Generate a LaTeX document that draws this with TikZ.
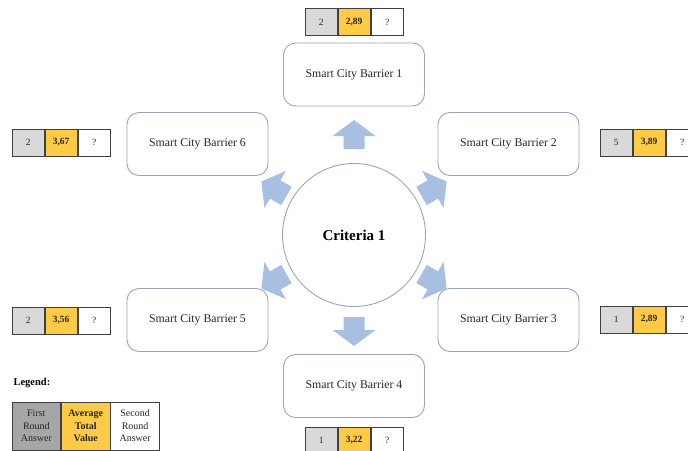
\documentclass[tikz,border=0pt]{standalone}
\usepackage{fontspec}
\setmainfont{Liberation Serif}
\usetikzlibrary{calc,positioning}
\definecolor{boxline}{HTML}{9AA6B8}
\definecolor{arrowblue}{HTML}{A7BFE0}
\definecolor{lightgray}{HTML}{D9D9D9}
\definecolor{darkgraycell}{HTML}{A6A6A6}
\definecolor{gold}{HTML}{FFCA45}
\definecolor{txt}{HTML}{262626}
\tikzset{
  barrier/.style={draw=boxline, line width=0.9pt, rounded corners=12pt, fill=white,
    minimum width=141pt, minimum height=63pt, inner sep=0pt, text=txt,
    font=\fontsize{11.8}{13}\selectfont},
  center/.style={circle, draw=boxline, line width=0.9pt, minimum size=143pt, inner sep=0pt,
    text=black, font=\fontsize{15}{17}\selectfont\bfseries},
  blockarrow/.style={fill=arrowblue, draw=none},
  cell/.style={draw=black!75, line width=0.7pt, minimum width=32.3pt, minimum height=27pt,
    inner sep=0pt, text=txt, font=\fontsize{9.5}{10}\selectfont},
  cfirst/.style={cell, fill=lightgray},
  cavg/.style={cell, fill=gold, font=\fontsize{9.5}{10}\selectfont\bfseries},
  csec/.style={cell, fill=white},
  lcell/.style={draw=black!75, line width=0.7pt, minimum width=48.7pt, minimum height=48pt,
    inner sep=0pt, text=txt, align=center, font=\fontsize{10}{12.5}\selectfont},
}
% block arrow pointing away from node c; #1 = direction (y down), #2 = base radius
\newcommand{\blockarrowat}[2]{%
  \fill[blockarrow]
    ($(c)+(#1:#2)+(#1+90:10.5)$) -- ($(c)+(#1:#2+13)+(#1+90:10.5)$)
    -- ($(c)+(#1:#2+13)+(#1+90:21.5)$) -- ($(c)+(#1:#2+29)$)
    -- ($(c)+(#1:#2+13)+(#1-90:21.5)$) -- ($(c)+(#1:#2+13)+(#1-90:10.5)$)
    -- ($(c)+(#1:#2)+(#1-90:10.5)$) -- cycle;}
\begin{document}
\begin{tikzpicture}[x=1pt, y=-1pt]
\useasboundingbox[fill=white] (0,0) rectangle (688,450);

% centre
\node[center] (c) at (354,235) {Criteria 1};

% barriers
\node[barrier] (b1) at (354,74.5) {Smart City Barrier 1};
\node[barrier] (b2) at (508.5,144) {Smart City Barrier 2};
\node[barrier] (b3) at (508.5,320) {Smart City Barrier 3};
\node[barrier] (b4) at (354,386) {Smart City Barrier 4};
\node[barrier] (b5) at (197.5,320) {Smart City Barrier 5};
\node[barrier] (b6) at (197.5,144) {Smart City Barrier 6};

% block arrows
\blockarrowat{-90}{86}
\blockarrowat{-30}{78}
\blockarrowat{30}{78}
\blockarrowat{90}{82}
\blockarrowat{150}{78}
\blockarrowat{210}{78}

% tables
\node[cfirst] (t1a) at (321.15,22) {2};
\node[cavg, right=0pt of t1a] (t1b) {2,89};
\node[csec, right=0pt of t1b] (t1c) {?};

\node[cfirst] (t2a) at (616.15,142.5) {5};
\node[cavg, right=0pt of t2a] (t2b) {3,89};
\node[csec, right=0pt of t2b] (t2c) {?};

\node[cfirst] (t3a) at (616.15,319.5) {1};
\node[cavg, right=0pt of t3a] (t3b) {2,89};
\node[csec, right=0pt of t3b] (t3c) {?};

\node[cfirst] (t4a) at (321.15,440.5) {1};
\node[cavg, right=0pt of t4a] (t4b) {3,22};
\node[csec, right=0pt of t4b] (t4c) {?};

\node[cfirst] (t5a) at (28.15,320.5) {2};
\node[cavg, right=0pt of t5a] (t5b) {3,56};
\node[csec, right=0pt of t5b] (t5c) {?};

\node[cfirst] (t6a) at (28.15,142.5) {2};
\node[cavg, right=0pt of t6a] (t6b) {3,67};
\node[csec, right=0pt of t6b] (t6c) {?};

% legend
\node[anchor=west, text=black, font=\fontsize{10.5}{12}\selectfont\bfseries] (lg) at (10,383) {Legend:};
\node[lcell, fill=darkgraycell] (la) at (36.35,426) {First\\Round\\Answer};
\node[lcell, fill=gold, right=0pt of la, font=\fontsize{10}{12.5}\selectfont\bfseries] (lb) {Average\\Total\\Value};
\node[lcell, fill=white, right=0pt of lb] (lc) {Second\\Round\\Answer};
\end{tikzpicture}
\end{document}
